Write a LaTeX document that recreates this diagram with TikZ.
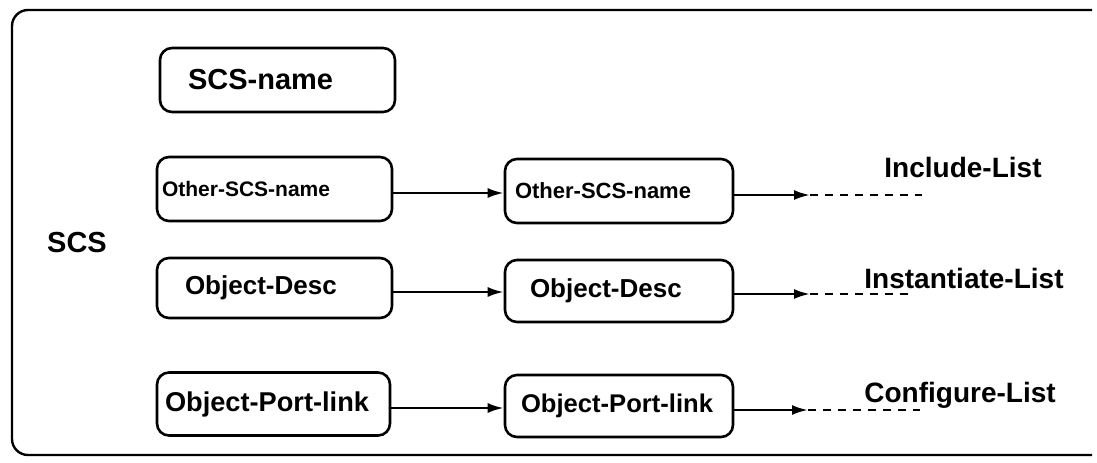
\documentclass[tikz,border=0pt]{standalone}
\usepackage{fontspec}
\setmainfont{Liberation Sans}
\usetikzlibrary{positioning,
        arrows.meta}

\begin{document}
\begin{tikzpicture}[x=0.5pt,y=-0.5pt,
            blk/.style={draw,line width=1.3pt,rounded corners=6pt,align=left},
            lbl/.style={font=\bfseries\fontsize{14}{16}\selectfont},
            link/.style={line width=1.2pt,-{Latex[length=8pt,width=5pt]}},
            tail/.style={line width=1.2pt,dash pattern=on 4pt off 3.5pt}]
            \useasboundingbox (0,0) rectangle (1097,462);
            % outer frame (its right side is not drawn)
            \draw [line width=1.2pt,rounded corners=8pt] (1092,10) -- (12,10) -- (12,455) -- (1092,455);

            \node [lbl,font=\bfseries\fontsize{14.5}{16}\selectfont] (scs) at (77,243) {SCS};
            \node [blk,minimum height=32pt,inner xsep=14pt,text width=89.5pt,font=\bfseries\fontsize{14.5}{16}\selectfont] (name) at (277.5,80) {SCS-name};

            \node [blk,minimum height=32pt,inner xsep=2.5pt,text width=112.5pt,font=\bfseries\fontsize{10.5}{12}\selectfont] (other1) at (274.5,189) {Other-SCS-name};
            \node [blk,minimum height=32pt,inner xsep=5pt,text width=104pt,font=\bfseries\fontsize{11}{13}\selectfont] (other2) at (619,191) {Other-SCS-name};
            \node [blk,minimum height=30pt,inner xsep=14pt,text width=89.5pt,font=\bfseries\fontsize{13}{15}\selectfont] (desc1) at (274.5,288) {Object-Desc};
            \node [blk,minimum height=31pt,inner xsep=12.5pt,text width=89pt,font=\bfseries\fontsize{13}{15}\selectfont] (desc2) at (619,291) {Object-Desc};
            \node [blk,minimum height=31.5pt,inner xsep=4pt,text width=108.5pt,font=\bfseries\fontsize{13.6}{15}\selectfont] (port1) at (273.5,404) {Object-Port-link};
            \node [blk,minimum height=31pt,inner xsep=8pt,text width=98pt,font=\bfseries\fontsize{12.8}{15}\selectfont] (port2) at (619,406) {Object-Port-link};

            \node [lbl] (inclist) at (963,167) {Include-List};
            \node [lbl] (instlist) at (964,278) {Instantiate-List};
            \node [lbl] (conflist) at (960,395) {Configure-List};

            \coordinate (inctip) at (810,195);
            \coordinate (incend) at (922,195);
            \coordinate (insttip) at (810,294);
            \coordinate (instend) at (912,294);
            \coordinate (conftip) at (808,410);
            \coordinate (confend) at (920,410);

            \draw [link] (other1.east |- 0,193) -- (other2.west |- 0,193);
            \draw [link] (desc1.east |- 0,292) -- (desc2.west |- 0,292);
            \draw [link] (port1.east |- 0,408) -- (port2.west |- 0,408);

            \draw [link] (other2.east |- inctip) -- (inctip);
            \draw [tail] (inctip) -- (incend);
            \draw [link] (desc2.east |- insttip) -- (insttip);
            \draw [tail] (insttip) -- (instend);
            \draw [link] (port2.east |- conftip) -- (conftip);
            \draw [tail] (conftip) -- (confend);
        \end{tikzpicture}
\end{document}
